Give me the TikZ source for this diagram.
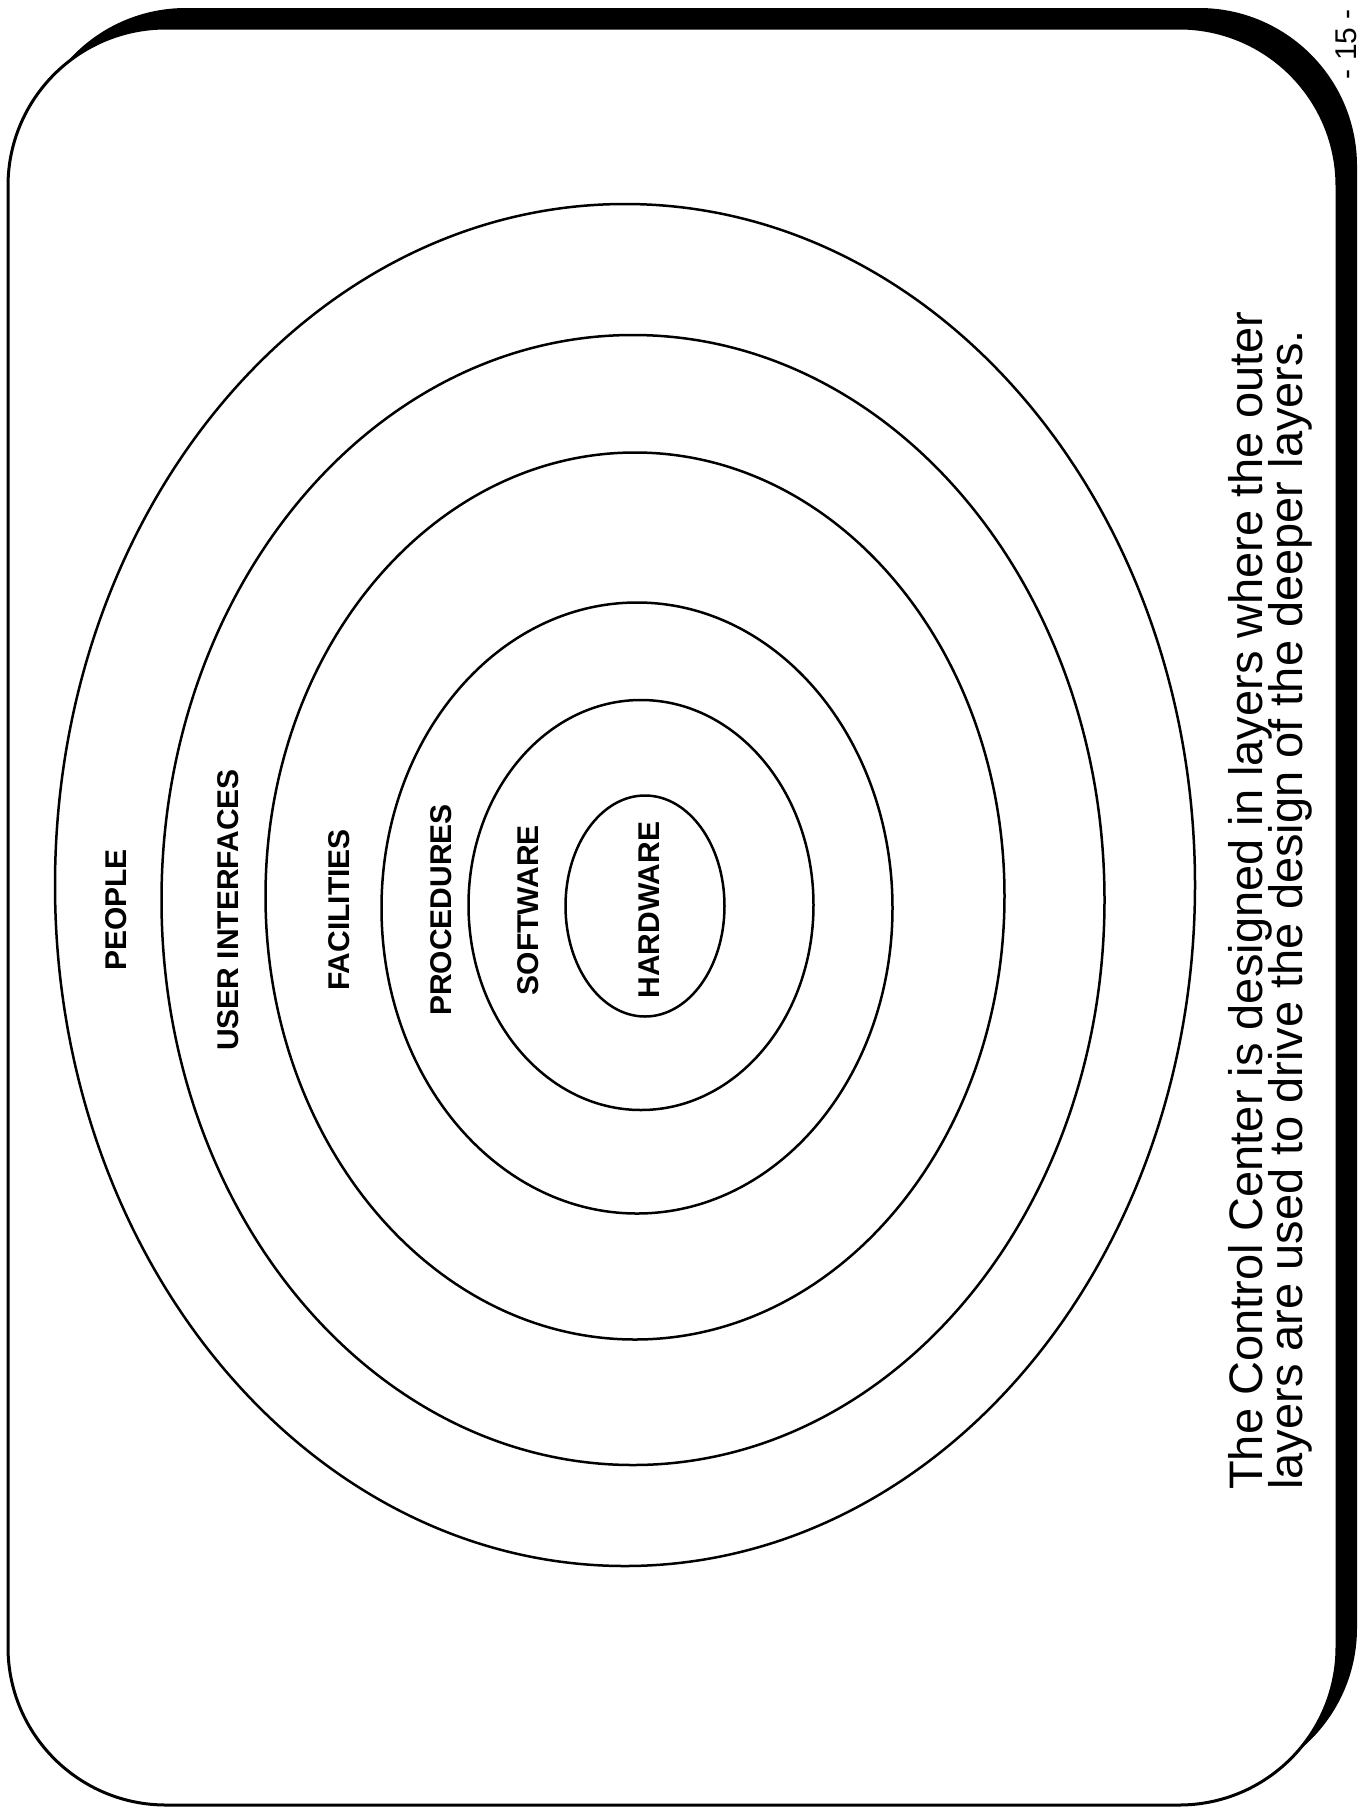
\documentclass[tikz,border=0pt]{standalone}
\usepackage{fontspec}
\setmainfont{Liberation Sans}
\usetikzlibrary{shapes.geometric}
\begin{document}
\begin{tikzpicture}[x=1pt,y=-1pt,
  ring/.style={ellipse, draw=black, line width=2.5pt, inner sep=0pt, outer sep=0pt},
  lbl/.style={font=\fontsize{30}{30}\selectfont\bfseries, rotate=90, anchor=base, inner sep=0pt},
  captxt/.style={font=\fontsize{47}{47}\selectfont, rotate=90, anchor=base west, inner sep=0pt}]
\useasboundingbox (0,0) rectangle (1364,1810);
% frame with drop shadow
\fill[black, rounded corners=158pt] (28,8) rectangle (1357,1786);
\draw[line width=3pt, fill=white, rounded corners=158pt] (8,28) rectangle (1337,1805);
% layers
\node[ring, minimum width=1140pt, minimum height=1362pt] (e1) at (625,885) {};
\node[ring, minimum width=943pt, minimum height=1130pt] (e2) at (633,900) {};
\node[ring, minimum width=739pt, minimum height=887pt] (e3) at (635,896) {};
\node[ring, minimum width=511pt, minimum height=611pt] (e4) at (637,908) {};
\node[ring, minimum width=345pt, minimum height=410pt] (e5) at (641,905) {};
\node[ring, minimum width=159pt, minimum height=221pt] (e6) at (645,906) {};
% labels
\node[lbl] (people) at (126,910) {PEOPLE};
\node[lbl] (ui) at (238,910) {USER INTERFACES};
\node[lbl] (fac) at (349,910) {FACILITIES};
\node[lbl] (proc) at (451,910) {PROCEDURES};
\node[lbl] (soft) at (538,910) {SOFTWARE};
\node[lbl] (hw) at (659,910) {HARDWARE};
% caption
\node[captxt] (c1) at (1262,1490) {The Control Center is designed in layers where the outer};
\node[captxt] (c2) at (1302,1490) {layers are used to drive the design of the deeper layers.};
% page number
\node[font=\fontsize{30}{30}\selectfont, rotate=90, anchor=base, inner sep=0pt] (pg) at (1356,44) {- 15 -};
\end{tikzpicture}
\end{document}
